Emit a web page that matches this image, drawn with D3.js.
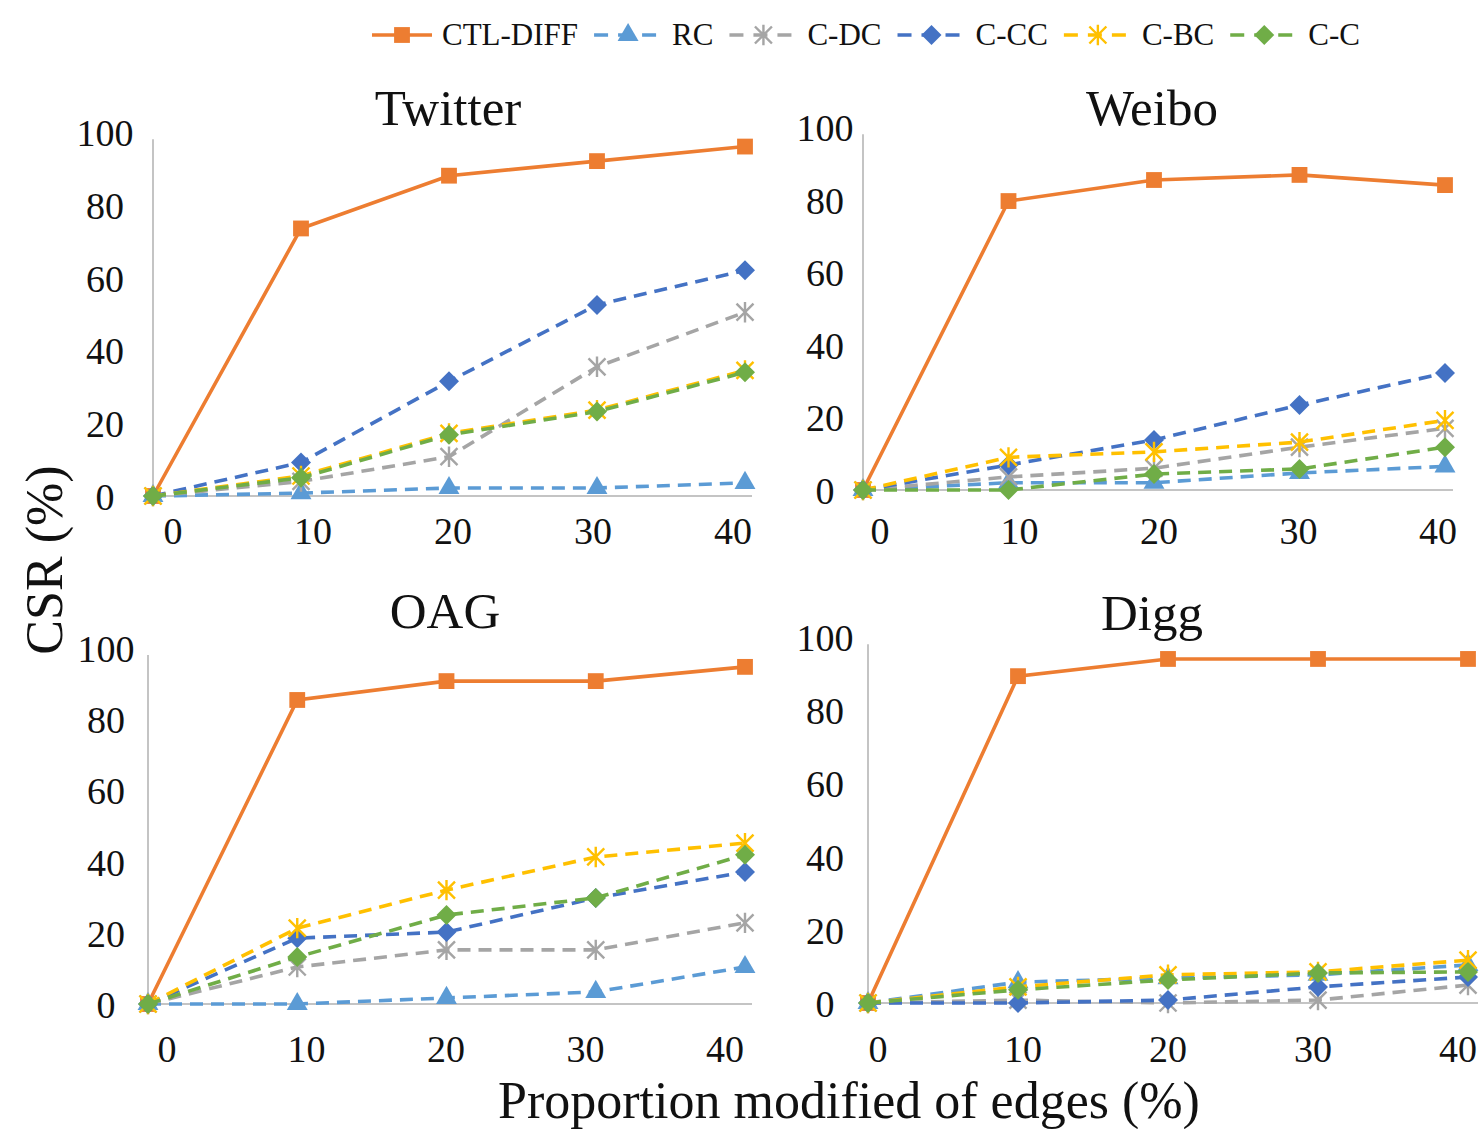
<!DOCTYPE html>
<html>
<head>
<meta charset="utf-8">
<script src="https://cdn.jsdelivr.net/npm/d3@7"></script>
<style>
  body { margin: 0; background: #fff; }
  text { font-family: "Liberation Serif", "DejaVu Serif", serif; fill: #111; }
</style>
</head>
<body>
<div id="chart"></div>
<script>
// Data
const xValues = [0, 10, 20, 30, 40];
const seriesNames = ["CTL-DIFF", "RC", "C-DC", "C-CC", "C-BC", "C-C"];
const panelTitles = ["Twitter", "Weibo", "OAG", "Digg"];
const yTicks = [0, 20, 40, 60, 80, 100];

// rows follow seriesNames order
const twitterValues = [
  [0, 73.5, 88, 92, 96],
  [0, 0.8, 2.2, 2.2, 3.6],
  [0, 4, 10.8, 35.5, 50.5],
  [0, 9.2, 31.5, 52.5, 62],
  [0, 5.5, 17.2, 23.6, 34.5],
  [0, 5, 16.8, 23.2, 34]
];
const weiboValues = [
  [0, 79.6, 85.4, 86.8, 84],
  [0, 2, 2, 4.7, 6.5],
  [0, 3.6, 6, 11.8, 17],
  [0, 6.9, 13.8, 23.4, 32.2],
  [0, 9, 10.5, 13.2, 19.2],
  [0, 0, 4.4, 5.8, 11.8]
];
const oagValues = [
  [0, 85.4, 90.7, 90.7, 94.7],
  [0, 0, 1.7, 3.4, 10.4],
  [0, 10.4, 15.2, 15.2, 22.8],
  [0, 18.5, 20.2, 29.8, 37.1],
  [0, 21.3, 32, 41.3, 45.2],
  [0, 13.2, 25, 29.8, 41.9]
];
const diggValues = [
  [0, 89.3, 94, 94, 94],
  [0, 5.7, 6.8, 7.7, 10.4],
  [0, 0.8, 0, 0.8, 4.9],
  [0, 0, 0.8, 4.4, 7.1],
  [0, 4.4, 7.7, 8.5, 11.7],
  [0, 3.6, 6.3, 8.2, 8.5]
];
const panelValues = [twitterValues, weiboValues, oagValues, diggValues];

// Styles
const seriesStyle = [
  { color: "#ED7D31", dash: null, marker: "square" },
  { color: "#5B9BD5", dash: "13,8", marker: "triangle" },
  { color: "#A5A5A5", dash: "13,8", marker: "star" },
  { color: "#4472C4", dash: "13,8", marker: "diamond" },
  { color: "#FFC000", dash: "13,8", marker: "star" },
  { color: "#70AD47", dash: "13,8", marker: "diamond" }
];

// Layout per panel
const layout = [
  { x0: 153, x1: 745, axisEnd: 752, y0: 496, y100: 132, lx0: 173, lx1: 733, lblY: 530, ylX: 105, tx: 448, ty: 125 },
  { x0: 863, x1: 1445, axisEnd: 1453, y0: 490, y100: 127, lx0: 880, lx1: 1438, lblY: 530, ylX: 825, tx: 1152, ty: 125 },
  { x0: 148, x1: 745, axisEnd: 752, y0: 1004, y100: 648, lx0: 167, lx1: 725, lblY: 1048, ylX: 106, tx: 445, ty: 628 },
  { x0: 868, x1: 1468, axisEnd: 1478, y0: 1003, y100: 637, lx0: 878, lx1: 1458, lblY: 1048, ylX: 825, tx: 1152, ty: 630 }
];

const width = 1483;
const height = 1129;

const svg = d3.select("#chart")
  .append("svg")
  .attr("width", width)
  .attr("height", height);

function drawMarker(g, type, color, x, y) {
  if (type === "star") {
    const r = 8.5;
    const d = [[-r, -r, r, r], [-r, r, r, -r], [0, -r * 1.2, 0, r * 1.2]]
      .map(s => `M${x + s[0]},${y + s[1]}L${x + s[2]},${y + s[3]}`).join("");
    g.append("path").attr("d", d).attr("stroke", color).attr("stroke-width", 2.4).attr("fill", "none");
    return;
  }
  if (type === "diamond") {
    const r = 10;
    g.append("path")
      .attr("d", `M${x},${y - r}L${x + r},${y}L${x},${y + r}L${x - r},${y}Z`)
      .attr("fill", color);
    return;
  }
  const sym = { square: d3.symbolSquare, triangle: d3.symbolTriangle }[type];
  const size = { square: 250, triangle: 190 }[type];
  g.append("path")
    .attr("d", d3.symbol().type(sym).size(size)())
    .attr("transform", `translate(${x},${y})`)
    .attr("fill", color);
}

panelTitles.forEach((title, p) => {
  const L = layout[p];
  const x = d3.scaleLinear().domain([0, 40]).range([L.x0, L.x1]);
  const xl = d3.scaleLinear().domain([0, 40]).range([L.lx0, L.lx1]);
  const y = d3.scaleLinear().domain([0, 100]).range([L.y0, L.y100]);
  const g = svg.append("g");

  // axes lines
  g.append("line")
    .attr("x1", L.x0).attr("x2", L.x0)
    .attr("y1", y(0)).attr("y2", y(98))
    .attr("stroke", "#c4c4c4").attr("stroke-width", 2);
  g.append("line")
    .attr("x1", L.x0).attr("x2", L.axisEnd)
    .attr("y1", y(0)).attr("y2", y(0))
    .attr("stroke", "#c4c4c4").attr("stroke-width", 2);

  // tick labels
  g.selectAll(".ytick")
    .data(yTicks)
    .enter().append("text")
    .attr("x", L.ylX)
    .attr("y", d => y(d) + 14)
    .attr("text-anchor", "middle")
    .style("font-size", "38px")
    .text(d => d);

  g.selectAll(".xtick")
    .data(xValues)
    .enter().append("text")
    .attr("x", d => xl(d))
    .attr("y", L.lblY + 14)
    .attr("text-anchor", "middle")
    .style("font-size", "38px")
    .text(d => d);

  // title
  g.append("text")
    .attr("x", L.tx)
    .attr("y", L.ty)
    .attr("text-anchor", "middle")
    .style("font-size", "51px")
    .text(title);

  // series
  const line = d3.line().x((d, i) => x(xValues[i])).y(d => y(d));
  panelValues[p].forEach((vals, s) => {
    const st = seriesStyle[s];
    g.append("path")
      .attr("d", line(vals))
      .attr("fill", "none")
      .attr("stroke", st.color)
      .attr("stroke-width", 3.6)
      .attr("stroke-dasharray", st.dash);
    const mg = g.append("g");
    vals.forEach((v, i) => drawMarker(mg, st.marker, st.color, x(xValues[i]), y(v)));
  });
});

// axis titles
svg.append("text")
  .attr("transform", "translate(62,560) rotate(-90)")
  .attr("text-anchor", "middle")
  .style("font-size", "52px")
  .text("CSR (%)");

svg.append("text")
  .attr("x", 849)
  .attr("y", 1118)
  .attr("text-anchor", "middle")
  .style("font-size", "52px")
  .text("Proportion modified of edges (%)");

// legend
const legend = svg.append("g");
let lx = 372;
const ly = 35;
seriesNames.forEach((name, s) => {
  const st = seriesStyle[s];
  const symW = s === 0 ? 60 : 68;
  legend.append("line")
    .attr("x1", lx).attr("x2", lx + symW)
    .attr("y1", ly).attr("y2", ly)
    .attr("stroke", st.color)
    .attr("stroke-width", 3.6)
    .attr("stroke-dasharray", st.dash ? "14,10" : null);
  drawMarker(legend, st.marker, st.color, lx + symW / 2, ly);
  const t = legend.append("text")
    .attr("x", lx + symW + 10)
    .attr("y", ly + 10)
    .style("font-size", "31px")
    .text(name);
  lx += symW + 10 + t.node().getComputedTextLength() + 16;
});
</script>
</body>
</html>
